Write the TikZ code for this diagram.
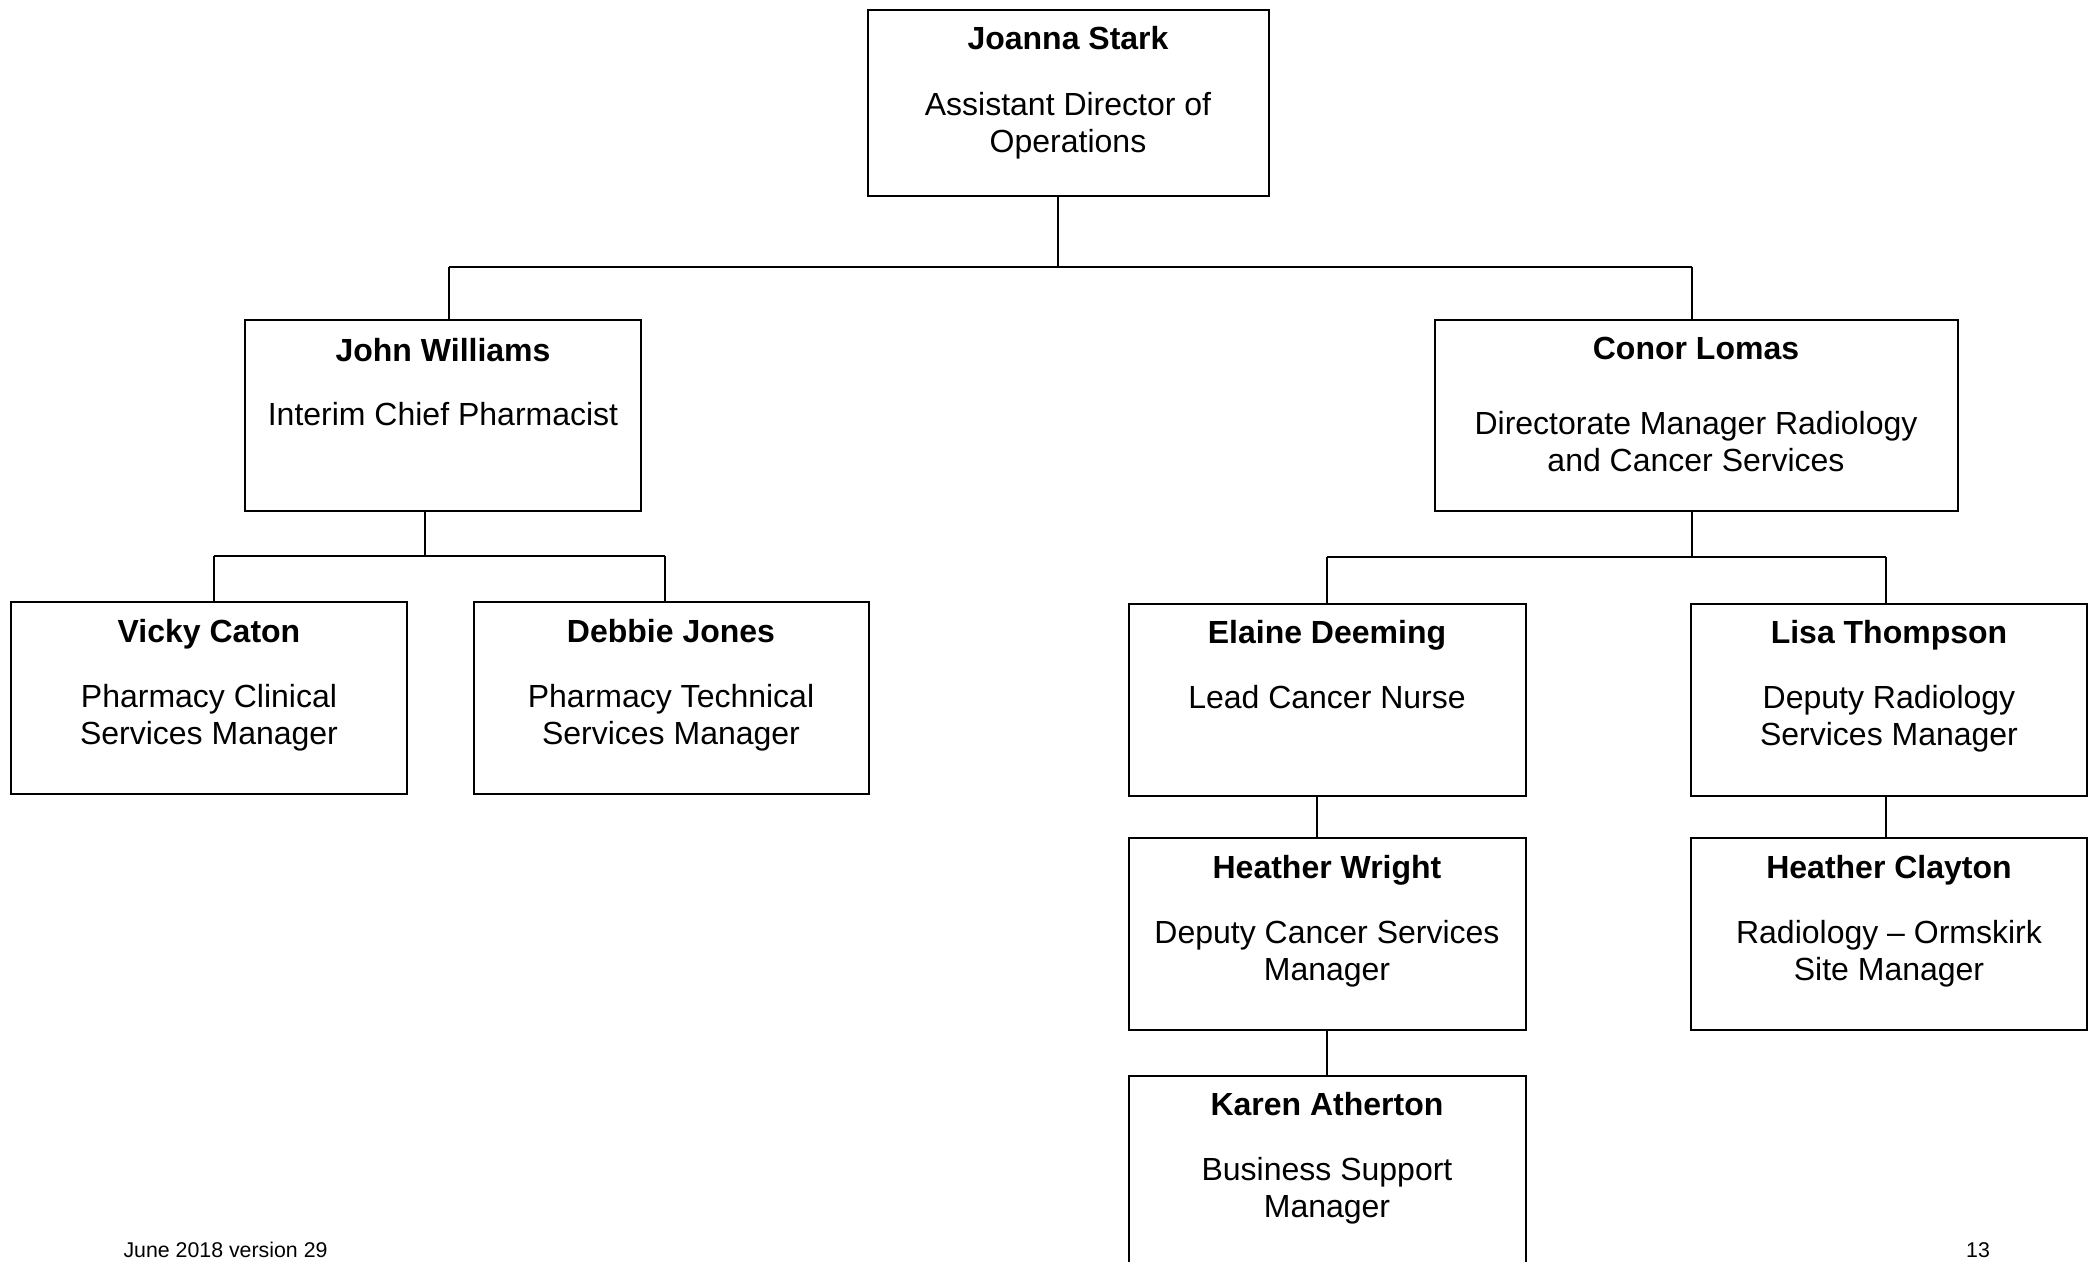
\documentclass[tikz,border=0pt]{standalone}
\usepackage{fontspec}
\setmainfont{Liberation Sans}
\usetikzlibrary{fit}
\begin{document}
\begin{tikzpicture}[x=0.375pt,y=-0.375pt,
  box/.style={draw, line width=0.8pt, inner sep=0pt},
  nm/.style={font=\fontsize{12}{13.8}\selectfont\bfseries, anchor=base, inner sep=0pt},
  ttl/.style={font=\fontsize{12}{13.8}\selectfont, align=center, anchor=north, inner sep=0pt},
  foot/.style={font=\fontsize{8}{9.6}\selectfont, inner sep=0pt},
  link/.style={line width=0.8pt}]
\fill[white] (0,0) rectangle (2091,1262);
\clip (0,0) rectangle (2091,1262);

% boxes
\node[box, fit={(868,10) (1269,196)}] (js) {};
\node[box, fit={(245,320) (641,511)}] (jw) {};
\node[box, fit={(1435,320) (1958,511)}] (cl) {};
\node[box, fit={(11,602) (407,794)}] (vc) {};
\node[box, fit={(474,602) (869,794)}] (dj) {};
\node[box, fit={(1129,604) (1526,796)}] (ed) {};
\node[box, fit={(1691,604) (2087,796)}] (lt) {};
\node[box, fit={(1129,838) (1526,1030)}] (hw) {};
\node[box, fit={(1691,838) (2087,1030)}] (hc) {};
\node[box, fit={(1129,1076) (1526,1320)}] (ka) {};

% texts
\node[nm] (jsn) at (1068,50) {Joanna Stark};
\node[ttl] (jst) at (1068,92) {Assistant Director of\\Operations};
\node[nm] (jwn) at (443,362) {John Williams};
\node[ttl] (jwt) at (443,402) {Interim Chief Pharmacist};
\node[nm] (cln) at (1696,360) {Conor Lomas};
\node[ttl] (clt) at (1696,411) {Directorate Manager Radiology\\and Cancer Services};
\node[nm] (vcn) at (209,643) {Vicky Caton};
\node[ttl] (vct) at (209,684) {Pharmacy Clinical\\Services Manager};
\node[nm] (djn) at (671,643) {Debbie Jones};
\node[ttl] (djt) at (671,684) {Pharmacy Technical\\Services Manager};
\node[nm] (edn) at (1327,644) {Elaine Deeming};
\node[ttl] (edt) at (1327,685) {Lead Cancer Nurse};
\node[nm] (ltn) at (1889,644) {Lisa Thompson};
\node[ttl] (ltt) at (1889,685) {Deputy Radiology\\Services Manager};
\node[nm] (hwn) at (1327,878) {Heather Wright};
\node[ttl] (hwt) at (1327,920) {Deputy Cancer Services\\Manager};
\node[nm] (hcn) at (1889,878) {Heather Clayton};
\node[ttl] (hct) at (1889,920) {Radiology -- Ormskirk\\Site Manager};
\node[nm] (kan) at (1327,1115) {Karen Atherton};
\node[ttl] (kat) at (1327,1157) {Business Support\\Manager};

% footer
\node[foot, anchor=base west] (ft) at (123,1257) {June 2018 version 29};
\node[foot, anchor=base] (pg) at (1978,1257) {13};

% connectors
\coordinate (b1) at (1058,267);
\coordinate (b1l) at (449,267);
\coordinate (b1r) at (1692,267);
\draw[link] (js.south -| b1) -- (b1);
\draw[link] (b1l) -- (b1r);
\draw[link] (b1l) -- (b1l |- jw.north);
\draw[link] (b1r) -- (b1r |- cl.north);

\coordinate (b2) at (425,556);
\coordinate (b2l) at (214,556);
\coordinate (b2r) at (665,556);
\draw[link] (jw.south -| b2) -- (b2);
\draw[link] (b2l) -- (b2r);
\draw[link] (b2l) -- (b2l |- vc.north);
\draw[link] (b2r) -- (b2r |- dj.north);

\coordinate (b3) at (1692,557);
\coordinate (b3l) at (1327,557);
\coordinate (b3r) at (1886,557);
\draw[link] (cl.south -| b3) -- (b3);
\draw[link] (b3l) -- (b3r);
\draw[link] (b3l) -- (b3l |- ed.north);
\draw[link] (b3r) -- (b3r |- lt.north);

\coordinate (c1) at (1317,817);
\coordinate (c2) at (1886,817);
\coordinate (c3) at (1327,1053);
\draw[link] (ed.south -| c1) -- (hw.north -| c1);
\draw[link] (lt.south -| c2) -- (hc.north -| c2);
\draw[link] (hw.south -| c3) -- (ka.north -| c3);
\end{tikzpicture}
\end{document}
